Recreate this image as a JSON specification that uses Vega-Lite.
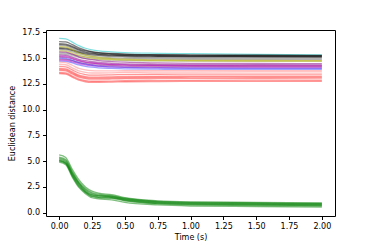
{
  "$schema": "https://vega.github.io/schema/vega-lite/v6.json",
  "width": 289,
  "height": 186,
  "autosize": {"type": "none"},
  "padding": {"left": 46, "top": 30, "right": 39, "bottom": 33},
  "background": "white",
  "config": {
    "view": {"stroke": "#000", "strokeWidth": 1},
    "font": "DejaVu Sans",
    "axis": {
      "grid": false,
      "domain": false,
      "tickColor": "#000",
      "tickSize": 3.5,
      "labelFontSize": 8,
      "labelColor": "#000",
      "labelPadding": 3,
      "titleFontSize": 8,
      "titleFontWeight": "normal",
      "titleColor": "#000"
    }
  },
  "datasets": {
    "lines": [
      {"s":"c1","g":"c","t":0,"v":16.9},{"s":"c1","g":"c","t":0.05,"v":16.85},{"s":"c1","g":"c","t":0.1,"v":16.55},{"s":"c1","g":"c","t":0.15,"v":16.2},{"s":"c1","g":"c","t":0.2,"v":15.95},{"s":"c1","g":"c","t":0.25,"v":15.8},{"s":"c1","g":"c","t":0.3,"v":15.7},{"s":"c1","g":"c","t":0.4,"v":15.6},{"s":"c1","g":"c","t":0.5,"v":15.53},{"s":"c1","g":"c","t":0.75,"v":15.46},{"s":"c1","g":"c","t":1,"v":15.42},{"s":"c1","g":"c","t":1.5,"v":15.35},{"s":"c1","g":"c","t":2,"v":15.3},
      {"s":"k1","g":"k","t":0,"v":16.6},{"s":"k1","g":"k","t":0.05,"v":16.56},{"s":"k1","g":"k","t":0.1,"v":16.3},{"s":"k1","g":"k","t":0.15,"v":15.98},{"s":"k1","g":"k","t":0.2,"v":15.77},{"s":"k1","g":"k","t":0.25,"v":15.63},{"s":"k1","g":"k","t":0.3,"v":15.53},{"s":"k1","g":"k","t":0.4,"v":15.44},{"s":"k1","g":"k","t":0.5,"v":15.38},{"s":"k1","g":"k","t":0.75,"v":15.32},{"s":"k1","g":"k","t":1,"v":15.29},{"s":"k1","g":"k","t":1.5,"v":15.26},{"s":"k1","g":"k","t":2,"v":15.24},
      {"s":"k2","g":"k","t":0,"v":16.3},{"s":"k2","g":"k","t":0.05,"v":16.26},{"s":"k2","g":"k","t":0.1,"v":16.04},{"s":"k2","g":"k","t":0.15,"v":15.77},{"s":"k2","g":"k","t":0.2,"v":15.58},{"s":"k2","g":"k","t":0.25,"v":15.47},{"s":"k2","g":"k","t":0.3,"v":15.38},{"s":"k2","g":"k","t":0.4,"v":15.3},{"s":"k2","g":"k","t":0.5,"v":15.25},{"s":"k2","g":"k","t":0.75,"v":15.2},{"s":"k2","g":"k","t":1,"v":15.17},{"s":"k2","g":"k","t":1.5,"v":15.15},{"s":"k2","g":"k","t":2,"v":15.14},
      {"s":"k3","g":"k","t":0,"v":15.9},{"s":"k3","g":"k","t":0.05,"v":15.87},{"s":"k3","g":"k","t":0.1,"v":15.71},{"s":"k3","g":"k","t":0.15,"v":15.52},{"s":"k3","g":"k","t":0.2,"v":15.39},{"s":"k3","g":"k","t":0.25,"v":15.31},{"s":"k3","g":"k","t":0.3,"v":15.25},{"s":"k3","g":"k","t":0.4,"v":15.19},{"s":"k3","g":"k","t":0.5,"v":15.15},{"s":"k3","g":"k","t":0.75,"v":15.11},{"s":"k3","g":"k","t":1,"v":15.09},{"s":"k3","g":"k","t":1.5,"v":15.08},{"s":"k3","g":"k","t":2,"v":15.07},
      {"s":"k4","g":"k","t":0,"v":16.0},{"s":"k4","g":"k","t":0.05,"v":15.97},{"s":"k4","g":"k","t":0.1,"v":15.8},{"s":"k4","g":"k","t":0.15,"v":15.61},{"s":"k4","g":"k","t":0.2,"v":15.48},{"s":"k4","g":"k","t":0.25,"v":15.4},{"s":"k4","g":"k","t":0.3,"v":15.34},{"s":"k4","g":"k","t":0.4,"v":15.28},{"s":"k4","g":"k","t":0.5,"v":15.24},{"s":"k4","g":"k","t":0.75,"v":15.2},{"s":"k4","g":"k","t":1,"v":15.18},{"s":"k4","g":"k","t":1.5,"v":15.17},{"s":"k4","g":"k","t":2,"v":15.16},
      {"s":"k5","g":"k","t":0,"v":16.4},{"s":"k5","g":"k","t":0.05,"v":16.36},{"s":"k5","g":"k","t":0.1,"v":16.14},{"s":"k5","g":"k","t":0.15,"v":15.87},{"s":"k5","g":"k","t":0.2,"v":15.69},{"s":"k5","g":"k","t":0.25,"v":15.57},{"s":"k5","g":"k","t":0.3,"v":15.49},{"s":"k5","g":"k","t":0.4,"v":15.41},{"s":"k5","g":"k","t":0.5,"v":15.36},{"s":"k5","g":"k","t":0.75,"v":15.31},{"s":"k5","g":"k","t":1,"v":15.28},{"s":"k5","g":"k","t":1.5,"v":15.27},{"s":"k5","g":"k","t":2,"v":15.26},
      {"s":"gr1","g":"gray","t":0,"v":16.2},{"s":"gr1","g":"gray","t":0.05,"v":16.16},{"s":"gr1","g":"gray","t":0.1,"v":15.93},{"s":"gr1","g":"gray","t":0.15,"v":15.65},{"s":"gr1","g":"gray","t":0.2,"v":15.46},{"s":"gr1","g":"gray","t":0.25,"v":15.34},{"s":"gr1","g":"gray","t":0.3,"v":15.26},{"s":"gr1","g":"gray","t":0.4,"v":15.17},{"s":"gr1","g":"gray","t":0.5,"v":15.11},{"s":"gr1","g":"gray","t":0.75,"v":15.05},{"s":"gr1","g":"gray","t":1,"v":15.02},{"s":"gr1","g":"gray","t":1.5,"v":15.0},{"s":"gr1","g":"gray","t":2,"v":14.99},
      {"s":"gr2","g":"gray","t":0,"v":15.8},{"s":"gr2","g":"gray","t":0.05,"v":15.77},{"s":"gr2","g":"gray","t":0.1,"v":15.6},{"s":"gr2","g":"gray","t":0.15,"v":15.4},{"s":"gr2","g":"gray","t":0.2,"v":15.26},{"s":"gr2","g":"gray","t":0.25,"v":15.17},{"s":"gr2","g":"gray","t":0.3,"v":15.11},{"s":"gr2","g":"gray","t":0.4,"v":15.04},{"s":"gr2","g":"gray","t":0.5,"v":15.0},{"s":"gr2","g":"gray","t":0.75,"v":14.96},{"s":"gr2","g":"gray","t":1,"v":14.93},{"s":"gr2","g":"gray","t":1.5,"v":14.92},{"s":"gr2","g":"gray","t":2,"v":14.91},
      {"s":"gr3","g":"gray","t":0,"v":15.5},{"s":"gr3","g":"gray","t":0.05,"v":15.48},{"s":"gr3","g":"gray","t":0.1,"v":15.36},{"s":"gr3","g":"gray","t":0.15,"v":15.21},{"s":"gr3","g":"gray","t":0.2,"v":15.11},{"s":"gr3","g":"gray","t":0.25,"v":15.05},{"s":"gr3","g":"gray","t":0.3,"v":15.0},{"s":"gr3","g":"gray","t":0.4,"v":14.95},{"s":"gr3","g":"gray","t":0.5,"v":14.92},{"s":"gr3","g":"gray","t":0.75,"v":14.88},{"s":"gr3","g":"gray","t":1,"v":14.86},{"s":"gr3","g":"gray","t":1.5,"v":14.85},{"s":"gr3","g":"gray","t":2,"v":14.85},
      {"s":"gr4","g":"gray","t":0,"v":15.4},{"s":"gr4","g":"gray","t":0.05,"v":15.38},{"s":"gr4","g":"gray","t":0.1,"v":15.24},{"s":"gr4","g":"gray","t":0.15,"v":15.07},{"s":"gr4","g":"gray","t":0.2,"v":14.96},{"s":"gr4","g":"gray","t":0.25,"v":14.89},{"s":"gr4","g":"gray","t":0.3,"v":14.84},{"s":"gr4","g":"gray","t":0.4,"v":14.79},{"s":"gr4","g":"gray","t":0.5,"v":14.76},{"s":"gr4","g":"gray","t":0.75,"v":14.73},{"s":"gr4","g":"gray","t":1,"v":14.71},{"s":"gr4","g":"gray","t":1.5,"v":14.7},{"s":"gr4","g":"gray","t":2,"v":14.7},
      {"s":"y1","g":"y","t":0,"v":16.1},{"s":"y1","g":"y","t":0.05,"v":16.06},{"s":"y1","g":"y","t":0.1,"v":15.8},{"s":"y1","g":"y","t":0.15,"v":15.49},{"s":"y1","g":"y","t":0.2,"v":15.29},{"s":"y1","g":"y","t":0.25,"v":15.16},{"s":"y1","g":"y","t":0.3,"v":15.06},{"s":"y1","g":"y","t":0.4,"v":14.95},{"s":"y1","g":"y","t":0.5,"v":14.89},{"s":"y1","g":"y","t":0.75,"v":14.82},{"s":"y1","g":"y","t":1,"v":14.78},{"s":"y1","g":"y","t":1.5,"v":14.76},{"s":"y1","g":"y","t":2,"v":14.75},
      {"s":"y2","g":"y","t":0,"v":15.7},{"s":"y2","g":"y","t":0.05,"v":15.67},{"s":"y2","g":"y","t":0.1,"v":15.48},{"s":"y2","g":"y","t":0.15,"v":15.25},{"s":"y2","g":"y","t":0.2,"v":15.1},{"s":"y2","g":"y","t":0.25,"v":15.0},{"s":"y2","g":"y","t":0.3,"v":14.93},{"s":"y2","g":"y","t":0.4,"v":14.85},{"s":"y2","g":"y","t":0.5,"v":14.8},{"s":"y2","g":"y","t":0.75,"v":14.75},{"s":"y2","g":"y","t":1,"v":14.72},{"s":"y2","g":"y","t":1.5,"v":14.7},{"s":"y2","g":"y","t":2,"v":14.7},
      {"s":"p1","g":"purple","t":0,"v":15.6},{"s":"p1","g":"purple","t":0.05,"v":15.57},{"s":"p1","g":"purple","t":0.1,"v":15.37},{"s":"p1","g":"purple","t":0.15,"v":15.12},{"s":"p1","g":"purple","t":0.2,"v":14.95},{"s":"p1","g":"purple","t":0.25,"v":14.84},{"s":"p1","g":"purple","t":0.3,"v":14.75},{"s":"p1","g":"purple","t":0.4,"v":14.66},{"s":"p1","g":"purple","t":0.5,"v":14.6},{"s":"p1","g":"purple","t":0.75,"v":14.53},{"s":"p1","g":"purple","t":1,"v":14.49},{"s":"p1","g":"purple","t":1.5,"v":14.47},{"s":"p1","g":"purple","t":2,"v":14.46},
      {"s":"p2","g":"purple","t":0,"v":15.3},{"s":"p2","g":"purple","t":0.05,"v":15.27},{"s":"p2","g":"purple","t":0.1,"v":15.1},{"s":"p2","g":"purple","t":0.15,"v":14.88},{"s":"p2","g":"purple","t":0.2,"v":14.74},{"s":"p2","g":"purple","t":0.25,"v":14.64},{"s":"p2","g":"purple","t":0.3,"v":14.57},{"s":"p2","g":"purple","t":0.4,"v":14.49},{"s":"p2","g":"purple","t":0.5,"v":14.44},{"s":"p2","g":"purple","t":0.75,"v":14.39},{"s":"p2","g":"purple","t":1,"v":14.36},{"s":"p2","g":"purple","t":1.5,"v":14.35},{"s":"p2","g":"purple","t":2,"v":14.34},
      {"s":"p3","g":"purple","t":0,"v":15.1},{"s":"p3","g":"purple","t":0.05,"v":15.07},{"s":"p3","g":"purple","t":0.1,"v":14.92},{"s":"p3","g":"purple","t":0.15,"v":14.72},{"s":"p3","g":"purple","t":0.2,"v":14.59},{"s":"p3","g":"purple","t":0.25,"v":14.5},{"s":"p3","g":"purple","t":0.3,"v":14.44},{"s":"p3","g":"purple","t":0.4,"v":14.37},{"s":"p3","g":"purple","t":0.5,"v":14.33},{"s":"p3","g":"purple","t":0.75,"v":14.28},{"s":"p3","g":"purple","t":1,"v":14.26},{"s":"p3","g":"purple","t":1.5,"v":14.25},{"s":"p3","g":"purple","t":2,"v":14.24},
      {"s":"p4","g":"purple","t":0,"v":14.9},{"s":"p4","g":"purple","t":0.05,"v":14.88},{"s":"p4","g":"purple","t":0.1,"v":14.74},{"s":"p4","g":"purple","t":0.15,"v":14.57},{"s":"p4","g":"purple","t":0.2,"v":14.45},{"s":"p4","g":"purple","t":0.25,"v":14.37},{"s":"p4","g":"purple","t":0.3,"v":14.32},{"s":"p4","g":"purple","t":0.4,"v":14.26},{"s":"p4","g":"purple","t":0.5,"v":14.22},{"s":"p4","g":"purple","t":0.75,"v":14.18},{"s":"p4","g":"purple","t":1,"v":14.16},{"s":"p4","g":"purple","t":1.5,"v":14.15},{"s":"p4","g":"purple","t":2,"v":14.15},
      {"s":"m1","g":"m","t":0,"v":15.2},{"s":"m1","g":"m","t":0.05,"v":15.17},{"s":"m1","g":"m","t":0.1,"v":14.99},{"s":"m1","g":"m","t":0.15,"v":14.77},{"s":"m1","g":"m","t":0.2,"v":14.62},{"s":"m1","g":"m","t":0.25,"v":14.52},{"s":"m1","g":"m","t":0.3,"v":14.45},{"s":"m1","g":"m","t":0.4,"v":14.38},{"s":"m1","g":"m","t":0.5,"v":14.33},{"s":"m1","g":"m","t":0.75,"v":14.28},{"s":"m1","g":"m","t":1,"v":14.26},{"s":"m1","g":"m","t":1.5,"v":14.25},{"s":"m1","g":"m","t":2,"v":14.25},
      {"s":"m2","g":"m","t":0,"v":14.8},{"s":"m2","g":"m","t":0.05,"v":14.78},{"s":"m2","g":"m","t":0.1,"v":14.64},{"s":"m2","g":"m","t":0.15,"v":14.46},{"s":"m2","g":"m","t":0.2,"v":14.34},{"s":"m2","g":"m","t":0.25,"v":14.26},{"s":"m2","g":"m","t":0.3,"v":14.2},{"s":"m2","g":"m","t":0.4,"v":14.14},{"s":"m2","g":"m","t":0.5,"v":14.1},{"s":"m2","g":"m","t":0.75,"v":14.07},{"s":"m2","g":"m","t":1,"v":14.05},{"s":"m2","g":"m","t":1.5,"v":14.04},{"s":"m2","g":"m","t":2,"v":14.04},
      {"s":"b1","g":"b","t":0,"v":14.7},{"s":"b1","g":"b","t":0.05,"v":14.68},{"s":"b1","g":"b","t":0.1,"v":14.52},{"s":"b1","g":"b","t":0.15,"v":14.33},{"s":"b1","g":"b","t":0.2,"v":14.2},{"s":"b1","g":"b","t":0.25,"v":14.11},{"s":"b1","g":"b","t":0.3,"v":14.05},{"s":"b1","g":"b","t":0.4,"v":13.99},{"s":"b1","g":"b","t":0.5,"v":13.95},{"s":"b1","g":"b","t":0.75,"v":13.92},{"s":"b1","g":"b","t":1,"v":13.9},{"s":"b1","g":"b","t":1.5,"v":13.9},{"s":"b1","g":"b","t":2,"v":13.9},
      {"s":"b2","g":"b","t":0,"v":15.0},{"s":"b2","g":"b","t":0.05,"v":14.97},{"s":"b2","g":"b","t":0.1,"v":14.78},{"s":"b2","g":"b","t":0.15,"v":14.55},{"s":"b2","g":"b","t":0.2,"v":14.4},{"s":"b2","g":"b","t":0.25,"v":14.3},{"s":"b2","g":"b","t":0.3,"v":14.22},{"s":"b2","g":"b","t":0.4,"v":14.14},{"s":"b2","g":"b","t":0.5,"v":14.09},{"s":"b2","g":"b","t":0.75,"v":14.04},{"s":"b2","g":"b","t":1,"v":14.01},{"s":"b2","g":"b","t":1.5,"v":14.0},{"s":"b2","g":"b","t":2,"v":14.0},
      {"s":"pk1","g":"pink","t":0,"v":14.6},{"s":"pk1","g":"pink","t":0.05,"v":14.56},{"s":"pk1","g":"pink","t":0.1,"v":14.3},{"s":"pk1","g":"pink","t":0.15,"v":14.0},{"s":"pk1","g":"pink","t":0.2,"v":13.85},{"s":"pk1","g":"pink","t":0.25,"v":13.78},{"s":"pk1","g":"pink","t":0.3,"v":13.76},{"s":"pk1","g":"pink","t":0.4,"v":13.76},{"s":"pk1","g":"pink","t":0.5,"v":13.77},{"s":"pk1","g":"pink","t":0.75,"v":13.78},{"s":"pk1","g":"pink","t":1,"v":13.78},{"s":"pk1","g":"pink","t":1.5,"v":13.78},{"s":"pk1","g":"pink","t":2,"v":13.78},
      {"s":"pk2","g":"pink","t":0,"v":14.4},{"s":"pk2","g":"pink","t":0.05,"v":14.35},{"s":"pk2","g":"pink","t":0.1,"v":14.05},{"s":"pk2","g":"pink","t":0.15,"v":13.75},{"s":"pk2","g":"pink","t":0.2,"v":13.6},{"s":"pk2","g":"pink","t":0.25,"v":13.55},{"s":"pk2","g":"pink","t":0.3,"v":13.55},{"s":"pk2","g":"pink","t":0.4,"v":13.57},{"s":"pk2","g":"pink","t":0.5,"v":13.6},{"s":"pk2","g":"pink","t":0.75,"v":13.63},{"s":"pk2","g":"pink","t":1,"v":13.64},{"s":"pk2","g":"pink","t":1.5,"v":13.65},{"s":"pk2","g":"pink","t":2,"v":13.65},
      {"s":"r1","g":"r","t":0,"v":14.2},{"s":"r1","g":"r","t":0.05,"v":14.15},{"s":"r1","g":"r","t":0.1,"v":13.85},{"s":"r1","g":"r","t":0.15,"v":13.55},{"s":"r1","g":"r","t":0.2,"v":13.4},{"s":"r1","g":"r","t":0.25,"v":13.35},{"s":"r1","g":"r","t":0.3,"v":13.35},{"s":"r1","g":"r","t":0.4,"v":13.37},{"s":"r1","g":"r","t":0.5,"v":13.4},{"s":"r1","g":"r","t":0.75,"v":13.43},{"s":"r1","g":"r","t":1,"v":13.44},{"s":"r1","g":"r","t":1.5,"v":13.45},{"s":"r1","g":"r","t":2,"v":13.45},
      {"s":"r2","g":"r","t":0,"v":14.0},{"s":"r2","g":"r","t":0.05,"v":13.95},{"s":"r2","g":"r","t":0.1,"v":13.65},{"s":"r2","g":"r","t":0.15,"v":13.35},{"s":"r2","g":"r","t":0.2,"v":13.2},{"s":"r2","g":"r","t":0.25,"v":13.15},{"s":"r2","g":"r","t":0.3,"v":13.15},{"s":"r2","g":"r","t":0.4,"v":13.17},{"s":"r2","g":"r","t":0.5,"v":13.2},{"s":"r2","g":"r","t":0.75,"v":13.23},{"s":"r2","g":"r","t":1,"v":13.24},{"s":"r2","g":"r","t":1.5,"v":13.25},{"s":"r2","g":"r","t":2,"v":13.25},
      {"s":"r3","g":"r","t":0,"v":13.9},{"s":"r3","g":"r","t":0.05,"v":13.85},{"s":"r3","g":"r","t":0.1,"v":13.55},{"s":"r3","g":"r","t":0.15,"v":13.25},{"s":"r3","g":"r","t":0.2,"v":13.1},{"s":"r3","g":"r","t":0.25,"v":13.05},{"s":"r3","g":"r","t":0.3,"v":13.05},{"s":"r3","g":"r","t":0.4,"v":13.07},{"s":"r3","g":"r","t":0.5,"v":13.1},{"s":"r3","g":"r","t":0.75,"v":13.13},{"s":"r3","g":"r","t":1,"v":13.14},{"s":"r3","g":"r","t":1.5,"v":13.15},{"s":"r3","g":"r","t":2,"v":13.15},
      {"s":"r4","g":"r","t":0,"v":13.8},{"s":"r4","g":"r","t":0.05,"v":13.75},{"s":"r4","g":"r","t":0.1,"v":13.45},{"s":"r4","g":"r","t":0.15,"v":13.15},{"s":"r4","g":"r","t":0.2,"v":13.0},{"s":"r4","g":"r","t":0.25,"v":12.95},{"s":"r4","g":"r","t":0.3,"v":12.95},{"s":"r4","g":"r","t":0.4,"v":12.97},{"s":"r4","g":"r","t":0.5,"v":13.0},{"s":"r4","g":"r","t":0.75,"v":13.02},{"s":"r4","g":"r","t":1,"v":13.03},{"s":"r4","g":"r","t":1.5,"v":13.04},{"s":"r4","g":"r","t":2,"v":13.05},
      {"s":"r5","g":"r","t":0,"v":13.6},{"s":"r5","g":"r","t":0.05,"v":13.55},{"s":"r5","g":"r","t":0.1,"v":13.25},{"s":"r5","g":"r","t":0.15,"v":12.95},{"s":"r5","g":"r","t":0.2,"v":12.8},{"s":"r5","g":"r","t":0.25,"v":12.75},{"s":"r5","g":"r","t":0.3,"v":12.75},{"s":"r5","g":"r","t":0.4,"v":12.77},{"s":"r5","g":"r","t":0.5,"v":12.8},{"s":"r5","g":"r","t":0.75,"v":12.83},{"s":"r5","g":"r","t":1,"v":12.84},{"s":"r5","g":"r","t":1.5,"v":12.85},{"s":"r5","g":"r","t":2,"v":12.85},
      {"s":"r6","g":"r","t":0,"v":13.5},{"s":"r6","g":"r","t":0.05,"v":13.45},{"s":"r6","g":"r","t":0.1,"v":13.15},{"s":"r6","g":"r","t":0.15,"v":12.85},{"s":"r6","g":"r","t":0.2,"v":12.7},{"s":"r6","g":"r","t":0.25,"v":12.65},{"s":"r6","g":"r","t":0.3,"v":12.65},{"s":"r6","g":"r","t":0.4,"v":12.67},{"s":"r6","g":"r","t":0.5,"v":12.7},{"s":"r6","g":"r","t":0.75,"v":12.72},{"s":"r6","g":"r","t":1,"v":12.73},{"s":"r6","g":"r","t":1.5,"v":12.74},{"s":"r6","g":"r","t":2,"v":12.75},
      {"s":"g1","g":"g","t":0,"v":5.6},{"s":"g1","g":"g","t":0.05,"v":5.35},{"s":"g1","g":"g","t":0.1,"v":4.2},{"s":"g1","g":"g","t":0.15,"v":3.2},{"s":"g1","g":"g","t":0.2,"v":2.5},{"s":"g1","g":"g","t":0.25,"v":2.1},{"s":"g1","g":"g","t":0.3,"v":1.9},{"s":"g1","g":"g","t":0.4,"v":1.75},{"s":"g1","g":"g","t":0.5,"v":1.45},{"s":"g1","g":"g","t":0.75,"v":1.15},{"s":"g1","g":"g","t":1,"v":1.05},{"s":"g1","g":"g","t":1.5,"v":1.0},{"s":"g1","g":"g","t":2,"v":0.95},
      {"s":"g2","g":"g","t":0,"v":5.3},{"s":"g2","g":"g","t":0.05,"v":5.05},{"s":"g2","g":"g","t":0.1,"v":3.9},{"s":"g2","g":"g","t":0.15,"v":2.9},{"s":"g2","g":"g","t":0.2,"v":2.25},{"s":"g2","g":"g","t":0.25,"v":1.85},{"s":"g2","g":"g","t":0.3,"v":1.7},{"s":"g2","g":"g","t":0.4,"v":1.6},{"s":"g2","g":"g","t":0.5,"v":1.35},{"s":"g2","g":"g","t":0.75,"v":1.05},{"s":"g2","g":"g","t":1,"v":0.95},{"s":"g2","g":"g","t":1.5,"v":0.9},{"s":"g2","g":"g","t":2,"v":0.85},
      {"s":"g3","g":"g","t":0,"v":5.1},{"s":"g3","g":"g","t":0.05,"v":4.85},{"s":"g3","g":"g","t":0.1,"v":3.7},{"s":"g3","g":"g","t":0.15,"v":2.75},{"s":"g3","g":"g","t":0.2,"v":2.05},{"s":"g3","g":"g","t":0.25,"v":1.7},{"s":"g3","g":"g","t":0.3,"v":1.6},{"s":"g3","g":"g","t":0.4,"v":1.5},{"s":"g3","g":"g","t":0.5,"v":1.25},{"s":"g3","g":"g","t":0.75,"v":0.95},{"s":"g3","g":"g","t":1,"v":0.85},{"s":"g3","g":"g","t":1.5,"v":0.8},{"s":"g3","g":"g","t":2,"v":0.75},
      {"s":"g4","g":"g","t":0,"v":5.0},{"s":"g4","g":"g","t":0.05,"v":4.75},{"s":"g4","g":"g","t":0.1,"v":3.55},{"s":"g4","g":"g","t":0.15,"v":2.55},{"s":"g4","g":"g","t":0.2,"v":1.95},{"s":"g4","g":"g","t":0.25,"v":1.55},{"s":"g4","g":"g","t":0.3,"v":1.45},{"s":"g4","g":"g","t":0.4,"v":1.4},{"s":"g4","g":"g","t":0.5,"v":1.15},{"s":"g4","g":"g","t":0.75,"v":0.85},{"s":"g4","g":"g","t":1,"v":0.75},{"s":"g4","g":"g","t":1.5,"v":0.7},{"s":"g4","g":"g","t":2,"v":0.65},
      {"s":"g5","g":"g","t":0,"v":4.9},{"s":"g5","g":"g","t":0.05,"v":4.65},{"s":"g5","g":"g","t":0.1,"v":3.45},{"s":"g5","g":"g","t":0.15,"v":2.45},{"s":"g5","g":"g","t":0.2,"v":1.85},{"s":"g5","g":"g","t":0.25,"v":1.45},{"s":"g5","g":"g","t":0.3,"v":1.35},{"s":"g5","g":"g","t":0.4,"v":1.25},{"s":"g5","g":"g","t":0.5,"v":1.0},{"s":"g5","g":"g","t":0.75,"v":0.75},{"s":"g5","g":"g","t":1,"v":0.65},{"s":"g5","g":"g","t":1.5,"v":0.6},{"s":"g5","g":"g","t":2,"v":0.55},
      {"s":"g6","g":"g","t":0,"v":5.2},{"s":"g6","g":"g","t":0.05,"v":4.95},{"s":"g6","g":"g","t":0.1,"v":3.8},{"s":"g6","g":"g","t":0.15,"v":2.85},{"s":"g6","g":"g","t":0.2,"v":2.15},{"s":"g6","g":"g","t":0.25,"v":1.75},{"s":"g6","g":"g","t":0.3,"v":1.65},{"s":"g6","g":"g","t":0.4,"v":1.55},{"s":"g6","g":"g","t":0.5,"v":1.3},{"s":"g6","g":"g","t":0.75,"v":1.0},{"s":"g6","g":"g","t":1,"v":0.9},{"s":"g6","g":"g","t":1.5,"v":0.85},{"s":"g6","g":"g","t":2,"v":0.8},
      {"s":"g7","g":"g","t":0,"v":5.4},{"s":"g7","g":"g","t":0.05,"v":5.15},{"s":"g7","g":"g","t":0.1,"v":4.0},{"s":"g7","g":"g","t":0.15,"v":3.0},{"s":"g7","g":"g","t":0.2,"v":2.35},{"s":"g7","g":"g","t":0.25,"v":1.95},{"s":"g7","g":"g","t":0.3,"v":1.8},{"s":"g7","g":"g","t":0.4,"v":1.65},{"s":"g7","g":"g","t":0.5,"v":1.4},{"s":"g7","g":"g","t":0.75,"v":1.1},{"s":"g7","g":"g","t":1,"v":1.0},{"s":"g7","g":"g","t":1.5,"v":0.95},{"s":"g7","g":"g","t":2,"v":0.9},
      {"s":"g8","g":"g","t":0,"v":5.05},{"s":"g8","g":"g","t":0.05,"v":4.8},{"s":"g8","g":"g","t":0.1,"v":3.65},{"s":"g8","g":"g","t":0.15,"v":2.65},{"s":"g8","g":"g","t":0.2,"v":2.0},{"s":"g8","g":"g","t":0.25,"v":1.6},{"s":"g8","g":"g","t":0.3,"v":1.5},{"s":"g8","g":"g","t":0.4,"v":1.45},{"s":"g8","g":"g","t":0.5,"v":1.2},{"s":"g8","g":"g","t":0.75,"v":0.9},{"s":"g8","g":"g","t":1,"v":0.8},{"s":"g8","g":"g","t":1.5,"v":0.75},{"s":"g8","g":"g","t":2,"v":0.7}
    ]
  },
  "data": {"name": "lines"},
  "mark": {"type": "line", "interpolate": "monotone", "strokeWidth": 1.3, "strokeOpacity": 0.5},
  "encoding": {
    "x": {
      "field": "t", "type": "quantitative",
      "scale": {"domain": [-0.1, 2.1], "nice": false, "zero": false},
      "axis": {"title": "Time (s)", "values": [0, 0.25, 0.5, 0.75, 1, 1.25, 1.5, 1.75, 2], "format": ".2f", "titlePadding": 3}
    },
    "y": {
      "field": "v", "type": "quantitative",
      "scale": {"domain": [-0.32, 17.72], "nice": false, "zero": false},
      "axis": {"title": "Euclidean distance", "values": [0, 2.5, 5, 7.5, 10, 12.5, 15, 17.5], "format": ".1f", "titlePadding": 5}
    },
    "color": {
      "field": "g", "type": "nominal",
      "scale": {
        "domain": ["c", "k", "gray", "y", "purple", "m", "b", "pink", "r", "g"],
        "range": ["#00bfbf", "#000000", "#808080", "#bfbf00", "#800080", "#bf00bf", "#4040ff", "#ff8080", "#ff3030", "#008000"]
      },
      "legend": null
    },
    "detail": {"field": "s"}
  }
}
